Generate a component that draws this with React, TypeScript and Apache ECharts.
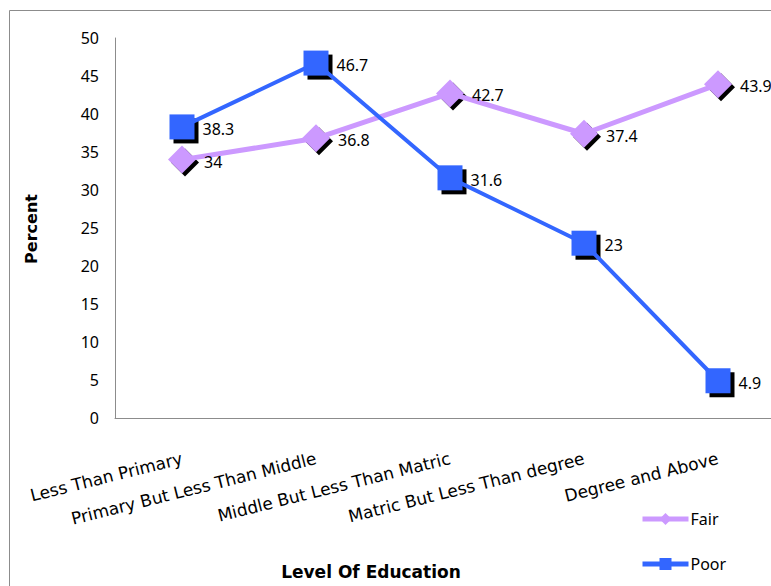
import React, { useEffect, useRef } from "react";
import * as echarts from "echarts";

// Education level categories along the x axis
const categories = [
  "Less Than Primary",
  "Primary But Less Than Middle",
  "Middle But Less Than Matric",
  "Matric But Less Than degree",
  "Degree and Above",
];

// Percent of respondents per category
const fairValues = [34, 36.8, 42.7, 37.4, 43.9];
const poorValues = [38.3, 46.7, 31.6, 23, 4.9];

// Value axis range
const yMin = 0;
const yMax = 50;
const yStep = 5;

const FAIR_COLOR = "#CC99FF";
const POOR_COLOR = "#3366FF";
const FONT = "'Noto Sans', 'DejaVu Sans', sans-serif";
const CAT_FONT = "'DejaVu Sans', 'Noto Sans', sans-serif";

// The plot runs past the right edge of the visible frame, so the chart
// surface is wider than the clipping viewport around it.
const VIEW_W = 771;
const VIEW_H = 586;
const CHART_W = 820;

export default function App() {
  const ref = useRef<HTMLDivElement>(null);

  useEffect(() => {
    if (!ref.current) return;
    const chart = echarts.init(ref.current, undefined, { renderer: "svg" });

    const valueLabel = {
      show: true,
      position: "right" as const,
      distance: 8,
      offset: [0, 2],
      color: "#000",
      fontSize: 16,
      fontFamily: FONT,
    };

    chart.setOption({
      animation: false,
      backgroundColor: "#fff",
      grid: { left: 115, top: 38, width: 670, height: 380, containLabel: false },
      graphic: [
        {
          type: "rect",
          shape: { x: 9.5, y: 10.5, width: 840, height: 620 },
          style: { fill: "none", stroke: "#8c8c8c", lineWidth: 1 },
          silent: true,
          z: -10,
        },
        {
          type: "text",
          x: 31,
          y: 229,
          rotation: Math.PI / 2,
          style: {
            text: "Percent",
            fill: "#000",
            font: `bold 16px ${CAT_FONT}`,
            textAlign: "center",
            textVerticalAlign: "middle",
          },
        },
        {
          type: "text",
          x: 371,
          y: 572,
          style: {
            text: "Level Of Education",
            fill: "#000",
            font: `bold 17px ${CAT_FONT}`,
            textAlign: "center",
            textVerticalAlign: "middle",
          },
        },
      ],
      legend: {
        data: ["Fair", "Poor"],
        orient: "vertical",
        left: 640,
        top: 511,
        height: 120,
        padding: 0,
        itemWidth: 46,
        itemHeight: 15,
        itemGap: 29,
        lineStyle: { width: 5 },
        textStyle: { fontSize: 16, fontFamily: FONT, color: "#000", padding: [0, 0, 0, -3] },
      },
      xAxis: {
        type: "category",
        data: categories,
        boundaryGap: true,
        axisLine: { show: true, lineStyle: { color: "#8c8c8c", width: 1 } },
        axisTick: { show: false },
        splitLine: { show: false },
        axisLabel: {
          rotate: 14,
          margin: 40,
          interval: 0,
          color: "#000",
          fontSize: 17,
          fontFamily: CAT_FONT,
        },
      },
      yAxis: {
        type: "value",
        min: yMin,
        max: yMax,
        interval: yStep,
        axisLine: { show: true, lineStyle: { color: "#8c8c8c", width: 1 } },
        axisTick: { show: false },
        splitLine: { show: false },
        axisLabel: { margin: 16, color: "#000", fontSize: 16, fontFamily: FONT },
      },
      series: [
        {
          name: "fairShadow",
          type: "scatter",
          data: fairValues,
          symbol: "diamond",
          symbolSize: 28,
          symbolOffset: [3, 3],
          itemStyle: { color: "#000", opacity: 1 },
          silent: true,
          z: 1,
        },
        {
          name: "poorShadow",
          type: "scatter",
          data: poorValues,
          symbol: "rect",
          symbolSize: 25,
          symbolOffset: [4, 4],
          itemStyle: { color: "#000", opacity: 1 },
          silent: true,
          z: 1,
        },
        {
          name: "Fair",
          type: "line",
          data: fairValues,
          symbol: "diamond",
          symbolSize: 28,
          showSymbol: true,
          lineStyle: { color: FAIR_COLOR, width: 5 },
          itemStyle: { color: FAIR_COLOR, borderWidth: 0 },
          label: valueLabel,
          z: 2,
        },
        {
          name: "Poor",
          type: "line",
          data: poorValues,
          symbol: "rect",
          symbolSize: 25,
          showSymbol: true,
          lineStyle: { color: POOR_COLOR, width: 4 },
          itemStyle: { color: POOR_COLOR, borderWidth: 0 },
          label: valueLabel,
          z: 3,
        },
      ],
    });

    return () => chart.dispose();
  }, []);

  return (
    <div
      style={{
        position: "absolute",
        left: 0,
        top: 0,
        width: VIEW_W,
        height: VIEW_H,
        overflow: "hidden",
        background: "#fff",
      }}
    >
      <div ref={ref} style={{ width: CHART_W, height: VIEW_H }} />
    </div>
  );
}
